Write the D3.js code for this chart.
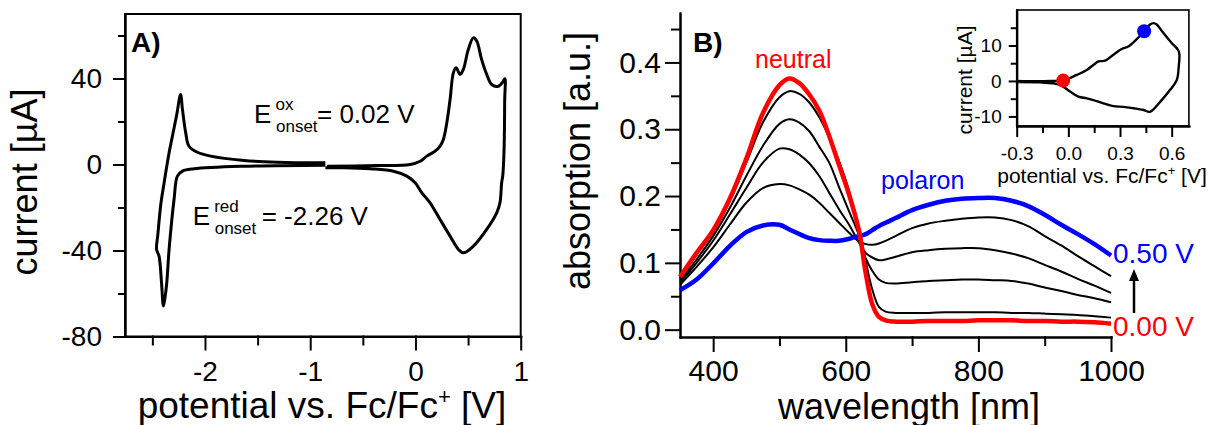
<!DOCTYPE html>
<html>
<head>
<meta charset="utf-8" />
<script src="https://d3js.org/d3.v7.min.js"></script>
<style>
  body { margin: 0; background: #fff; }
  svg { font-family: "Liberation Sans", Arial, sans-serif; }
  .axis path, .axis line { stroke: #000; stroke-width: 2; stroke-linecap: square; }
  .axis text { fill: #000; }
</style>
</head>
<body>
<svg id="fig" width="1211" height="425"></svg>
<script>
// ---- panel A: cyclic voltammogram [potential V, current uA] ----
const cvLeft = [
  [-0.856, 0.8], [-1.314, 1.1], [-1.63, 1.9], [-1.946, 3.9], [-2.072, 5.7],
  [-2.152, 8.5], [-2.183, 14.7], [-2.214, 25.6], [-2.232, 32.6], [-2.268, 23.3],
  [-2.306, 14], [-2.344, 4.7], [-2.391, -9.3], [-2.42, -18.6], [-2.448, -32.6],
  [-2.46, -39.5], [-2.436, -42.7], [-2.413, -55], [-2.395, -65.8], [-2.38, -62],
  [-2.363, -55], [-2.341, -39.5], [-2.294, -16.3], [-2.262, -5.4], [-2.214, -3.1],
  [-2.104, -2], [-1.63, -0.8], [-0.856, -0.3]
];
const cvRight = [
  [-0.84, -0.8], [-0.366, -0.5], [-0.05, 0], [0.045, 1.5], [0.108, 3.9],
  [0.187, 6.2], [0.234, 8.5], [0.265, 11.6], [0.298, 19.4], [0.329, 30.2],
  [0.36, 42.6], [0.386, 45], [0.424, 41.9], [0.455, 44.2], [0.502, 53.5],
  [0.55, 58.9], [0.582, 57.4], [0.629, 48.8], [0.677, 41.9], [0.724, 37.2],
  [0.787, 36.4], [0.834, 38.7], [0.85, 39.9], [0.848, 30], [0.842, 7],
  [0.83, -5], [0.819, -8.5], [0.803, -17.8], [0.772, -22.5], [0.677, -30.2],
  [0.55, -38], [0.455, -41.1], [0.408, -39.5], [0.329, -33.3], [0.234, -25.6],
  [0.139, -17.8], [0.061, -13.2], [-0.003, -8.5], [-0.082, -5.4], [-0.209, -3.1],
  [-0.43, -2], [-0.682, -1.5], [-0.856, -1.5]
];
const aXTicks = [-2, -1, 0, 1];
const aXMinor = [-2.5, -1.5, -0.5, 0.5];
const aYTicks = [-80, -40, 0, 40];
const aYMinor = [-60, -20, 20, 60];

// ---- panel B: spectroelectrochemistry ----
const wavelength = [350, 375, 400, 425, 450, 475, 500, 515, 530, 545, 560, 575, 590,
  605, 620, 630, 640, 650, 660, 675, 700, 725, 750, 775, 800, 825, 850, 875, 900,
  925, 950, 975, 1000];
const absNeutral = [0.079, 0.115, 0.149, 0.196, 0.256, 0.324, 0.366, 0.376, 0.369, 0.352,
  0.328, 0.29, 0.246, 0.202, 0.148, 0.085, 0.038, 0.019, 0.014, 0.012, 0.012, 0.013,
  0.013, 0.013, 0.014, 0.014, 0.014, 0.013, 0.013, 0.012, 0.012, 0.011, 0.009];
const absStep1 = [0.076, 0.112, 0.146, 0.192, 0.25, 0.31, 0.348, 0.357, 0.353, 0.34,
  0.318, 0.288, 0.252, 0.208, 0.15, 0.103, 0.06, 0.034, 0.027, 0.025, 0.025, 0.025,
  0.026, 0.026, 0.026, 0.026, 0.025, 0.025, 0.024, 0.023, 0.022, 0.02, 0.018];
const absStep2 = [0.073, 0.105, 0.14, 0.182, 0.23, 0.275, 0.308, 0.315, 0.31, 0.297,
  0.274, 0.25, 0.213, 0.177, 0.141, 0.107, 0.088, 0.075, 0.07, 0.069, 0.071, 0.073,
  0.074, 0.075, 0.075, 0.074, 0.073, 0.069, 0.063, 0.058, 0.052, 0.047, 0.041];
const absStep3 = [0.07, 0.1, 0.133, 0.172, 0.212, 0.25, 0.271, 0.27, 0.262, 0.249,
  0.23, 0.205, 0.18, 0.157, 0.13, 0.115, 0.108, 0.104, 0.105, 0.109, 0.116, 0.119,
  0.121, 0.122, 0.122, 0.119, 0.114, 0.107, 0.097, 0.087, 0.076, 0.066, 0.055];
const absStep4 = [0.067, 0.094, 0.123, 0.157, 0.19, 0.212, 0.218, 0.216, 0.21, 0.202,
  0.19, 0.175, 0.16, 0.145, 0.132, 0.128, 0.127, 0.129, 0.133, 0.14, 0.152, 0.159,
  0.163, 0.166, 0.168, 0.168, 0.164, 0.155, 0.14, 0.126, 0.11, 0.095, 0.08];
const absPolaron = [0.059, 0.075, 0.099, 0.125, 0.146, 0.156, 0.157, 0.15, 0.143, 0.137,
  0.134, 0.133, 0.133, 0.136, 0.14, 0.143, 0.149, 0.155, 0.16, 0.167, 0.179, 0.187,
  0.193, 0.196, 0.197, 0.197, 0.193, 0.185, 0.172, 0.157, 0.143, 0.128, 0.111];
const bXTicks = [400, 600, 800, 1000];
const bXMinor = [500, 700, 900];
const bYTicks = [0, 0.1, 0.2, 0.3, 0.4];
const bYMinor = [0.05, 0.15, 0.25, 0.35, 0.45];

// ---- inset: CV of the film ----
const insetCV = [
  [-0.304, 0], [-0.164, -0.1], [-0.087, 0], [-0.029, 0.1], [0.049, 1.7], [0.107, 3.1],
  [0.145, 4.5], [0.174, 5.5], [0.213, 5.7], [0.261, 7.4], [0.31, 9], [0.348, 9.7],
  [0.397, 11.8], [0.441, 14], [0.474, 15.9], [0.494, 16.3], [0.513, 15.9], [0.552, 13.5],
  [0.6, 10.7], [0.639, 8.6], [0.645, 7.4], [0.641, 4.1], [0.63, 0.3], [0.591, -2.5],
  [0.533, -5.9], [0.474, -8.7], [0.436, -8.2], [0.377, -7.7], [0.319, -7.3], [0.261, -7.1],
  [0.203, -6.3], [0.145, -5.4], [0.107, -4.9], [0.058, -4.4], [0.01, -3], [-0.038, -1.4],
  [-0.087, -0.7], [-0.164, -0.4], [-0.304, -0.3]
];
const insetDotV = [-0.03, 0.44];
const insetDotI = [0.1, 14];
const insetXTicks = [-0.3, 0, 0.3, 0.6];
const insetXMinor = [-0.15, 0.15, 0.45];
const insetYTicks = [-10, 0, 10];
const insetYMinor = [-5, 5, 15];

const RED = "#ff0000", BLUE = "#0000ff";
const svg = d3.select("#fig");

function drawAxis(g, gen, size) {
  g.attr("class", "axis").call(gen).attr("font-family", null).attr("font-size", size);
  return g;
}

// ================= panel A =================
const xA = d3.scaleLinear().domain([-2.76, 1]).range([125, 520.7]);
const yA = d3.scaleLinear().domain([-80, 70]).range([336.5, 14]);

drawAxis(svg.append("g").attr("transform", `translate(0,${yA.range()[0]})`),
  d3.axisBottom(xA).tickValues(aXTicks).tickSize(13).tickPadding(12).tickSizeOuter(0)
    .tickFormat(d => String(d)), 28);
drawAxis(svg.append("g").attr("transform", `translate(0,${yA.range()[0]})`),
  d3.axisBottom(xA).tickValues(aXMinor).tickSize(8).tickSizeOuter(0).tickFormat(""), 28);
drawAxis(svg.append("g").attr("transform", `translate(${xA.range()[0]},0)`),
  d3.axisLeft(yA).tickValues(aYTicks).tickSize(11).tickPadding(12).tickSizeOuter(0)
    .tickFormat(d => String(d)), 28);
drawAxis(svg.append("g").attr("transform", `translate(${xA.range()[0]},0)`),
  d3.axisLeft(yA).tickValues(aYMinor).tickSize(6).tickSizeOuter(0).tickFormat(""), 28);

svg.append("rect")
  .attr("x", xA.range()[0]).attr("y", yA.range()[1])
  .attr("width", xA.range()[1] - xA.range()[0])
  .attr("height", yA.range()[0] - yA.range()[1])
  .attr("fill", "none").attr("stroke", "#000").attr("stroke-width", 2);

const cvLine = d3.line().x(d => xA(d[0])).y(d => yA(d[1]))
  .curve(d3.curveCatmullRom.alpha(0.5));
[cvLeft, cvRight].forEach(seg => {
  svg.append("path").attr("d", cvLine(seg))
    .attr("fill", "none").attr("stroke", "#000").attr("stroke-width", 3)
    .attr("stroke-linejoin", "round");
});

svg.append("text").attr("x", 131).attr("y", 52).attr("font-size", 28)
  .attr("font-weight", "bold").text("A)");

// E onset labels
function onsetLabel(x, y, sup, rest, gap) {
  svg.append("text").attr("x", x).attr("y", y).attr("font-size", 26).text("E");
  svg.append("text").attr("x", x + 21.5).attr("y", y - 13.5).attr("font-size", 17).text(sup);
  svg.append("text").attr("x", x + 22).attr("y", y + 8.5).attr("font-size", 17).text("onset");
  svg.append("text").attr("x", x + gap).attr("y", y).attr("font-size", 26).text(rest);
}
onsetLabel(254, 123.3, "ox", "= 0.02 V", 63);
onsetLabel(192.7, 225, "red", "= -2.26 V", 69);

svg.append("text").attr("transform", "translate(37,182) rotate(-90)")
  .attr("text-anchor", "middle").attr("font-size", 36).text("current [µA]");
const tA = svg.append("text").attr("x", 322).attr("y", 418)
  .attr("text-anchor", "middle").attr("font-size", 37);
tA.append("tspan").text("potential vs. Fc/Fc");
tA.append("tspan").attr("dy", -14).attr("font-size", 22).text("+");
tA.append("tspan").attr("dy", 14).text(" [V]");

// ================= panel B =================
const xB = d3.scaleLinear().domain([350, 1000]).range([680, 1111]);
const yB = d3.scaleLinear().domain([-0.011, 0.474]).range([337, 13]);

drawAxis(svg.append("g").attr("transform", `translate(0,${yB.range()[0]})`),
  d3.axisBottom(xB).tickValues(bXTicks).tickSize(14).tickPadding(9).tickSizeOuter(0)
    .tickFormat(d3.format("d")), 30);
drawAxis(svg.append("g").attr("transform", `translate(0,${yB.range()[0]})`),
  d3.axisBottom(xB).tickValues(bXMinor).tickSize(8).tickSizeOuter(0).tickFormat(""), 30);
drawAxis(svg.append("g").attr("transform", `translate(${xB.range()[0]},0)`),
  d3.axisLeft(yB).tickValues(bYTicks).tickSize(14).tickPadding(5).tickSizeOuter(0)
    .tickFormat(d3.format(".1f")), 30);
drawAxis(svg.append("g").attr("transform", `translate(${xB.range()[0]},0)`),
  d3.axisLeft(yB).tickValues(bYMinor).tickSize(8).tickSizeOuter(0).tickFormat(""), 30);

const spec = d3.line().x((d, i) => xB(wavelength[i])).y(d => yB(d))
  .curve(d3.curveCatmullRom.alpha(0.5));
const spectra = [
  { v: absStep4, c: "#000", w: 2 },
  { v: absStep3, c: "#000", w: 2 },
  { v: absStep2, c: "#000", w: 2 },
  { v: absStep1, c: "#000", w: 2 },
  { v: absPolaron, c: BLUE, w: 4.5 },
  { v: absNeutral, c: RED, w: 4.5 }
];
spectra.forEach(s => {
  svg.append("path").attr("d", spec(s.v)).attr("fill", "none")
    .attr("stroke", s.c).attr("stroke-width", s.w).attr("stroke-linejoin", "round");
});

svg.append("text").attr("x", 693).attr("y", 52).attr("font-size", 28)
  .attr("font-weight", "bold").text("B)");
svg.append("text").attr("x", 755).attr("y", 68).attr("font-size", 25)
  .attr("fill", RED).text("neutral");
svg.append("text").attr("x", 881).attr("y", 189).attr("font-size", 25)
  .attr("fill", BLUE).text("polaron");
svg.append("text").attr("x", xB(1000) + 2).attr("y", 263).attr("font-size", 28)
  .attr("fill", BLUE).text("0.50 V");
svg.append("text").attr("x", xB(1000) + 2).attr("y", 336).attr("font-size", 28)
  .attr("fill", RED).text("0.00 V");

// arrow between the potential labels
const ax = xB(1000) + 23;
svg.append("line").attr("x1", ax).attr("x2", ax).attr("y1", 313).attr("y2", 279)
  .attr("stroke", "#000").attr("stroke-width", 2.5);
svg.append("path").attr("d", `M${ax},269 L${ax - 5},281 L${ax + 5},281 Z`).attr("fill", "#000");

svg.append("text").attr("transform", "translate(590,161) rotate(-90)")
  .attr("text-anchor", "middle").attr("font-size", 36).text("absorption [a.u.]");
svg.append("text").attr("x", 909).attr("y", 419)
  .attr("text-anchor", "middle").attr("font-size", 36).text("wavelength [nm]");

// ================= inset =================
const xI = d3.scaleLinear().domain([-0.3, 0.7]).range([1016.7, 1188.9]);
const yI = d3.scaleLinear().domain([-12.7, 20]).range([126, 10]);

drawAxis(svg.append("g").attr("transform", `translate(0,${yI.range()[0]})`),
  d3.axisBottom(xI).tickValues(insetXTicks).tickSize(10).tickPadding(11).tickSizeOuter(0)
    .tickFormat(d => d.toFixed(1)), 19);
drawAxis(svg.append("g").attr("transform", `translate(0,${yI.range()[0]})`),
  d3.axisBottom(xI).tickValues(insetXMinor).tickSize(6).tickSizeOuter(0).tickFormat(""), 19);
drawAxis(svg.append("g").attr("transform", `translate(${xI.range()[0]},0)`),
  d3.axisLeft(yI).tickValues(insetYTicks).tickSize(7).tickPadding(8).tickSizeOuter(0)
    .tickFormat(d => String(d)), 19);
drawAxis(svg.append("g").attr("transform", `translate(${xI.range()[0]},0)`),
  d3.axisLeft(yI).tickValues(insetYMinor).tickSize(5).tickSizeOuter(0).tickFormat(""), 19);
svg.selectAll(".axis").filter(function () {
  return this.getAttribute("font-size") === "19";
}).selectAll("path, line").attr("stroke-width", 1.6);

svg.append("rect")
  .attr("x", xI.range()[0]).attr("y", yI.range()[1])
  .attr("width", xI.range()[1] - xI.range()[0])
  .attr("height", yI.range()[0] - yI.range()[1])
  .attr("fill", "none").attr("stroke", "#000").attr("stroke-width", 1.6);

const insetLine = d3.line().x(d => xI(d[0])).y(d => yI(d[1]))
  .curve(d3.curveCatmullRom.alpha(0.5));
svg.append("path").attr("d", insetLine(insetCV)).attr("fill", "none")
  .attr("stroke", "#000").attr("stroke-width", 2.4).attr("stroke-linejoin", "round");

svg.selectAll("circle.dot").data(insetDotV).join("circle")
  .attr("class", "dot")
  .attr("cx", d => xI(d)).attr("cy", (d, i) => yI(insetDotI[i])).attr("r", 7)
  .attr("fill", (d, i) => i === 0 ? RED : BLUE);

svg.append("text").attr("transform", "translate(972,80) rotate(-90)")
  .attr("text-anchor", "middle").attr("font-size", 21).text("current [µA]");
const tI = svg.append("text").attr("x", 1102).attr("y", 183)
  .attr("text-anchor", "middle").attr("font-size", 21);
tI.append("tspan").text("potential vs. Fc/Fc");
tI.append("tspan").attr("dy", -8).attr("font-size", 13).text("+");
tI.append("tspan").attr("dy", 8).text(" [V]");
</script>
</body>
</html>
